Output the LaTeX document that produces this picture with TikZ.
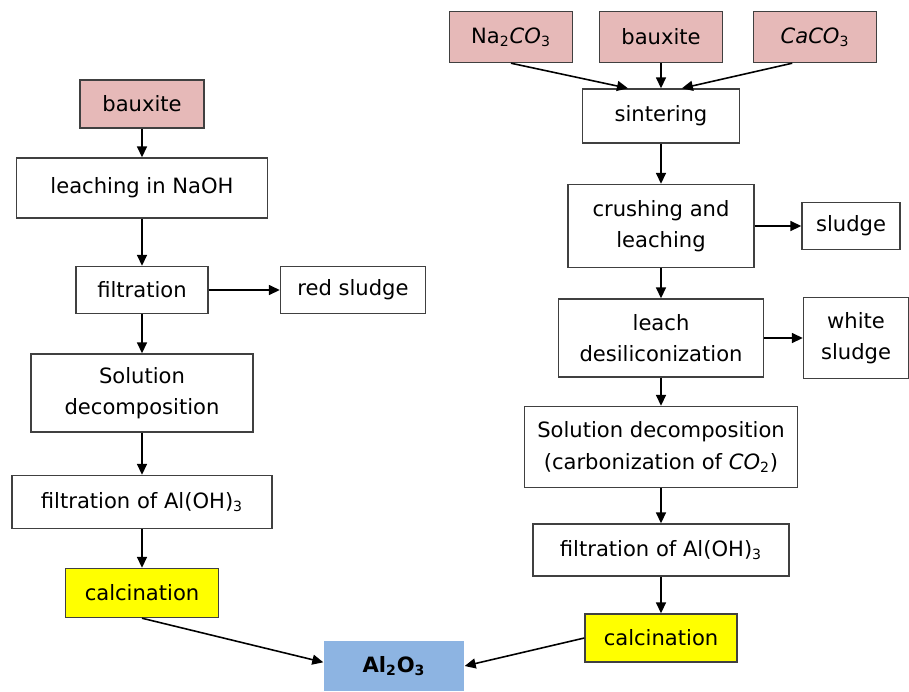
\documentclass[tikz,border=0pt]{standalone}
\usepackage{fontspec}
\setmainfont{DejaVu Sans}
\usetikzlibrary{arrows.meta}

\definecolor{feedpink}{HTML}{E6B9B8}
\definecolor{calcyellow}{HTML}{FFFF00}
\definecolor{prodblue}{HTML}{8DB4E2}

\begin{document}
\begin{tikzpicture}[x=0.02cm,y=-0.02cm,
    box/.style={draw=black!75,line width=0.8pt,fill=white,inner sep=0pt,
        align=center,font=\fontsize{12}{18}\selectfont},
    sz/.style 2 args={minimum width=#1*0.02cm,minimum height=#2*0.02cm},
    feed/.style={box,fill=feedpink},
    oven/.style={box,fill=calcyellow},
    product/.style={box,draw=none,fill=prodblue,font=\fontsize{12}{18}\selectfont\bfseries},
    flow/.style={-{Triangle[length=2.2mm,width=2mm]},line width=0.9pt}]
    \useasboundingbox (0,0) rectangle (909,691);

    % left route: leaching in caustic soda
    \node[feed,sz={124}{48}] (bauxl) at (142,104) {bauxite};
    \node[box,sz={251}{60}] (leach) at (142,188) {leaching in NaOH};
    \node[box,sz={132}{47}] (filt) at (142,290) {filtration};
    \node[box,sz={145}{47}] (redsl) at (353,290) {red sludge};
    \node[box,sz={222}{78}] (soldec) at (142,393) {Solution\\decomposition};
    \node[box,sz={260}{53}] (filtoh) at (142,502) {filtration of Al(OH)\textsubscript{3}};
    \node[oven,sz={153}{49}] (calcl) at (142,593) {calcination};

    % right route: sintering with soda and lime
    \node[feed,sz={123}{51}] (naco) at (511,37) {Na\textsubscript{2}\textit{CO}\textsubscript{3}};
    \node[feed,sz={123}{51}] (bauxr) at (661,37) {bauxite};
    \node[feed,sz={123}{51}] (caco) at (815,37) {\textit{CaCO}\textsubscript{3}};
    \node[box,sz={157}{54}] (sinter) at (661,116) {sintering};
    \node[box,sz={186}{83}] (crush) at (661,226) {crushing and\\leaching};
    \node[box,sz={98}{47}] (sludge) at (851,226) {sludge};
    \node[box,sz={205}{78}] (desil) at (661,338) {leach\\desiliconization};
    \node[box,sz={105}{81}] (whitesl) at (856,338) {white\\sludge};
    \node[box,sz={273}{81}] (carbon) at (661,447) {Solution decomposition\\(carbonization of \textit{CO}\textsubscript{2})};
    \node[box,sz={256}{52}] (filtohr) at (661,550) {filtration of Al(OH)\textsubscript{3}};
    \node[oven,sz={152}{48}] (calcr) at (661,638) {calcination};

    % alumina
    \node[product,sz={140}{50}] (alo) at (394,666) {Al\textsubscript{2}O\textsubscript{3}};

    \draw[flow] (bauxl) -- (leach);
    \draw[flow] (leach) -- (filt);
    \draw[flow] (filt) -- (redsl);
    \draw[flow] (filt) -- (soldec);
    \draw[flow] (soldec) -- (filtoh);
    \draw[flow] (filtoh) -- (calcl);
    \draw[flow] (calcl.south) -- (alo.177);

    \draw[flow] (naco.south) -- (sinter.140);
    \draw[flow] (bauxr) -- (sinter);
    \draw[flow] (caco.229) -- (sinter.53);
    \draw[flow] (sinter) -- (crush);
    \draw[flow] (crush) -- (sludge);
    \draw[flow] (crush) -- (desil);
    \draw[flow] (desil) -- (whitesl);
    \draw[flow] (desil) -- (carbon);
    \draw[flow] (carbon) -- (filtohr);
    \draw[flow] (filtohr) -- (calcr);
    \draw[flow] (calcr.west) -- (alo.east);
\end{tikzpicture}
\end{document}
